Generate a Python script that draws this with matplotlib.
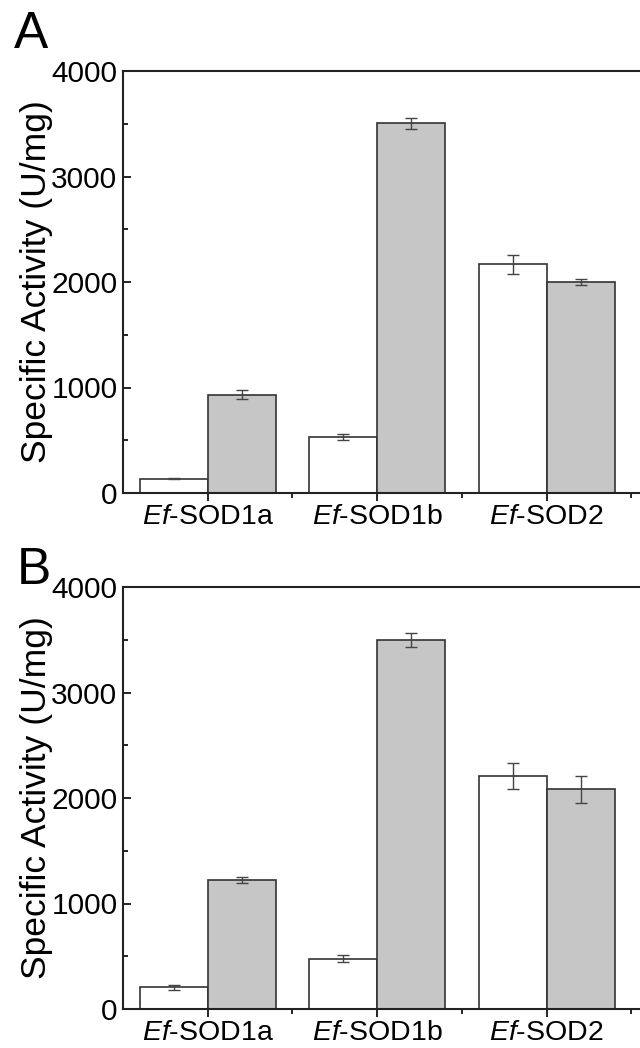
import numpy as np
import matplotlib
matplotlib.use('Agg')
import matplotlib.pyplot as plt
from matplotlib.ticker import MultipleLocator, FixedLocator

plt.rcParams['font.family'] = ['Liberation Sans', 'DejaVu Sans']
plt.rcParams['mathtext.fontset'] = 'custom'
plt.rcParams['mathtext.rm'] = 'Liberation Sans'
plt.rcParams['mathtext.it'] = 'Liberation Sans:italic'

categories = [r'$\it{Ef}$-SOD1a', r'$\it{Ef}$-SOD1b', r'$\it{Ef}$-SOD2']

# panel A
a_white = [135, 532, 2168]
a_white_err = [5, 28, 88]
a_gray = [932, 3503, 1998]
a_gray_err = [43, 52, 30]

# panel B
b_white = [207, 478, 2212]
b_white_err = [25, 33, 122]
b_gray = [1222, 3498, 2082]
b_gray_err = [25, 62, 125]

panels = [('A', a_white, a_white_err, a_gray, a_gray_err),
          ('B', b_white, b_white_err, b_gray, b_gray_err)]

W, H = 640, 1048
fig = plt.figure(figsize=(W / 100, H / 100), dpi=100)

# axes boxes in pixels: (top, bottom) ; axes run past the right edge
boxes = [(71, 493), (587, 1009)]
left_px, right_px = 123, 660
letter_pos = [(14, 48), (17, 584)]

x = np.arange(1, 4)
bw = 0.4
for (letter, w, we, g, ge), (top, bot), (lx, ly) in zip(panels, boxes, letter_pos):
    ax = fig.add_axes([left_px / W, 1 - bot / H, (right_px - left_px) / W, (bot - top) / H])
    ax.bar(x - bw / 2, w, bw, color='white', edgecolor='#333333', linewidth=1.2, zorder=2)
    ax.bar(x + bw / 2, g, bw, color='#c6c6c6', edgecolor='#333333', linewidth=1.2, zorder=2)
    ax.errorbar(x - bw / 2, w, yerr=we, fmt='none', ecolor='#444444', elinewidth=1.0,
                capsize=4, capthick=1.0, zorder=3)
    ax.errorbar(x + bw / 2, g, yerr=ge, fmt='none', ecolor='#444444', elinewidth=1.0,
                capsize=4, capthick=1.0, zorder=3)

    ax.set_xlim(0.5, 0.5 + (right_px - left_px) / 169.5)
    ax.set_ylim(0, 4000)
    ax.set_xticks(x)
    ax.set_xticklabels(categories, fontsize=20.5)
    ax.xaxis.set_minor_locator(FixedLocator([1.5, 2.5, 3.5]))
    ax.yaxis.set_major_locator(MultipleLocator(1000))
    ax.yaxis.set_minor_locator(MultipleLocator(500))
    ax.tick_params(axis='y', which='major', direction='in', length=6, width=1.2,
                   labelsize=21.5, pad=4)
    ax.tick_params(axis='y', which='minor', direction='in', length=3.5, width=1.2)
    ax.tick_params(axis='x', which='major', direction='out', length=6, width=1.2, pad=2)
    ax.tick_params(axis='x', which='minor', direction='out', length=3.5, width=1.2)
    for s in ax.spines.values():
        s.set_linewidth(1.5)
        s.set_color('#222222')
    ax.set_ylabel('Specific Activity (U/mg)', fontsize=25.5, labelpad=-1)
    fig.text(lx / W, 1 - ly / H, letter, fontsize=37, ha='left', va='baseline')

fig.savefig('out.png', dpi=100)
